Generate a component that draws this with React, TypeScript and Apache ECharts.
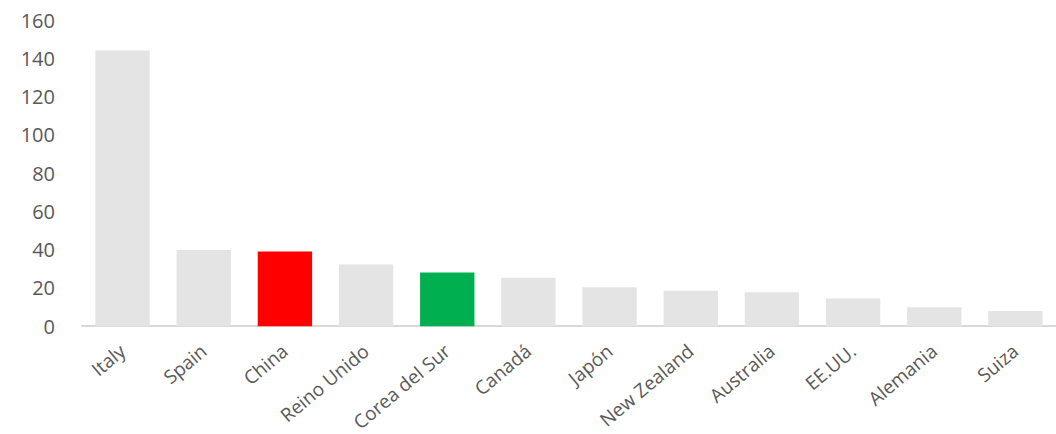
import React, { useEffect, useRef } from "react";
import * as echarts from "echarts";

const categories = ["Italy", "Spain", "China", "Reino Unido", "Corea del Sur", "Canadá", "Japón", "New Zealand", "Australia", "EE.UU.", "Alemania", "Suiza"];
const values = [144, 39.8, 39, 32.2, 28, 25.3, 20.3, 18.5, 17.7, 14.5, 9.9, 7.9];
const barColors = ["#e4e4e4", "#e4e4e4", "#ff0000", "#e4e4e4", "#00b050", "#e4e4e4", "#e4e4e4", "#e4e4e4", "#e4e4e4", "#e4e4e4", "#e4e4e4", "#e4e4e4"];
const yTicks = { min: 0, max: 160, interval: 20 };

export default function App() {
  const ref = useRef<HTMLDivElement>(null);
  useEffect(() => {
    if (!ref.current) return;
    const chart = echarts.init(ref.current, undefined, { renderer: "svg" });
    chart.setOption({
      animation: false,
      grid: { left: 82, top: 20, width: 979, height: 308 },
      xAxis: {
        type: "category",
        data: categories,
        axisLine: { lineStyle: { color: "#d9d9d9", width: 2 } },
        axisTick: { show: false },
        axisLabel: {
          rotate: 40,
          interval: 0,
          margin: 22,
          color: "#595959",
          fontSize: 19,
          fontFamily: "Open Sans",
        },
      },
      yAxis: {
        type: "value",
        min: yTicks.min,
        max: yTicks.max,
        interval: yTicks.interval,
        splitLine: { show: false },
        axisLine: { show: false },
        axisTick: { show: false },
        axisLabel: {
          color: "#595959",
          fontSize: 20,
          margin: 27,
          fontFamily: "Open Sans",
        },
      },
      series: [
        {
          type: "bar",
          data: values.map((v, i) => ({ value: v, itemStyle: { color: barColors[i] } })),
          barCategoryGap: "33%",
        },
      ],
    });
    return () => chart.dispose();
  }, []);
  return <div ref={ref} style={{ position: "absolute", left: 0, top: 0, width: 1056, height: 434 }} />;
}
